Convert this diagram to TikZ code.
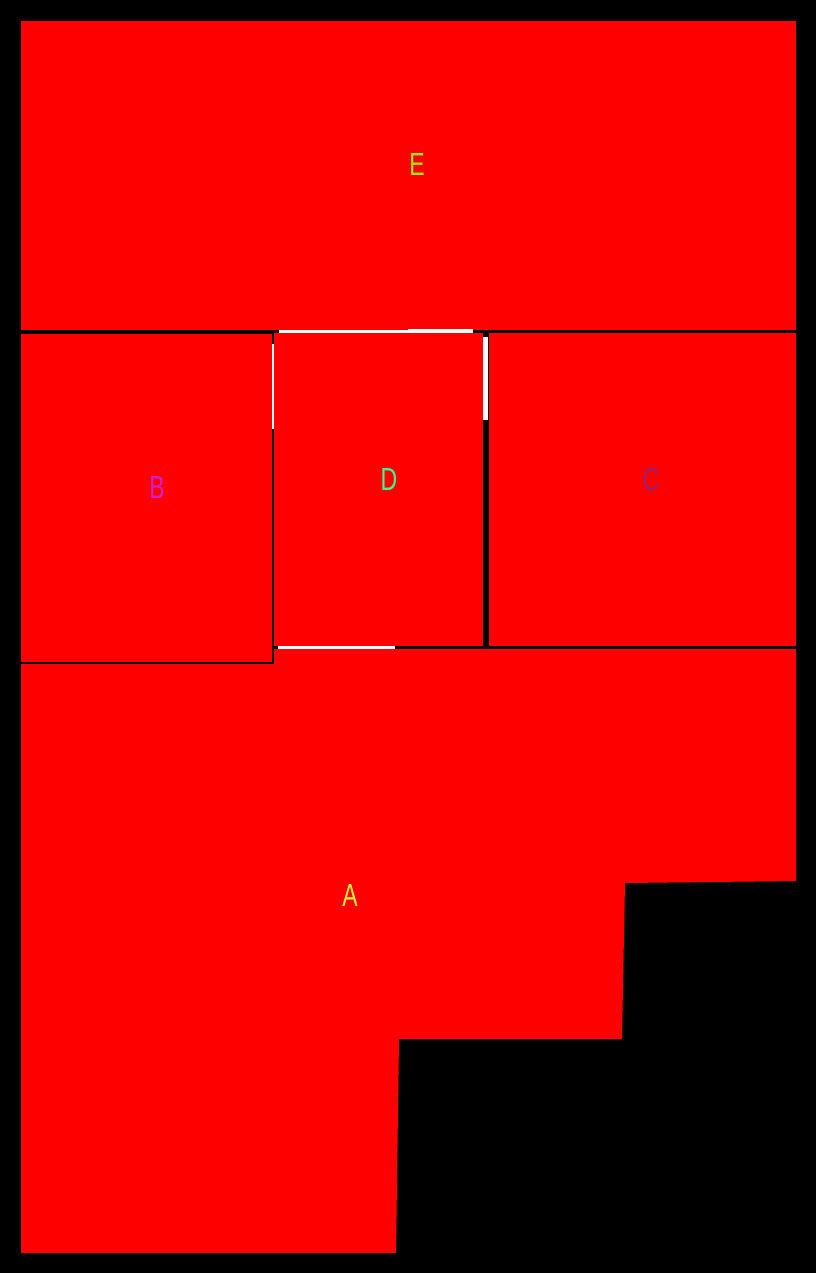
\documentclass[tikz,border=0pt]{standalone}
\usepackage{fontspec}
\setmainfont{Liberation Sans}
\begin{document}
\begin{tikzpicture}[x=1pt,y=-1pt,
  room/.style={fill=red,draw=none},
  gap/.style={fill=white,draw=none},
  lbl/.style={font=\fontsize{32}{32}\selectfont,inner sep=0pt,xscale=0.72}]
\fill[black] (0,0) rectangle (816,1273);
\useasboundingbox (0,0) rectangle (816,1273);
% rooms
\fill[room] (21,21) rectangle (796,330);
\fill[room] (21,334) rectangle (272,662);
\fill[room] (274,333) rectangle (483,646);
\fill[room] (489,333) rectangle (796,646);
\fill[room] (21,664) -- (274,664) -- (274,649) -- (796,649) -- (796,881)
  -- (625,883) -- (622,1039) -- (399,1039) -- (396,1253) -- (21,1253) -- cycle;
% openings
\fill[gap] (279,330) rectangle (408,333);
\fill[gap] (408,329) rectangle (473,333);
\fill[gap] (272,344) rectangle (274,429);
\fill[gap] (483,337) rectangle (488,420);
\fill[gap] (278,646) rectangle (395,649);
% labels
\node[lbl,text={rgb,255:red,150;green,230;blue,30}] (lE) at (417,164) {E};
\node[lbl,text={rgb,255:red,210;green,30;blue,210}] (lB) at (157,487) {B};
\node[lbl,text={rgb,255:red,60;green,250;blue,150}] (lD) at (389,479) {D};
\node[lbl,text={rgb,255:red,160;green,30;blue,110}] (lC) at (651,479) {C};
\node[lbl,text={rgb,255:red,255;green,240;blue,60}] (lA) at (350,895) {A};
\end{tikzpicture}
\end{document}
